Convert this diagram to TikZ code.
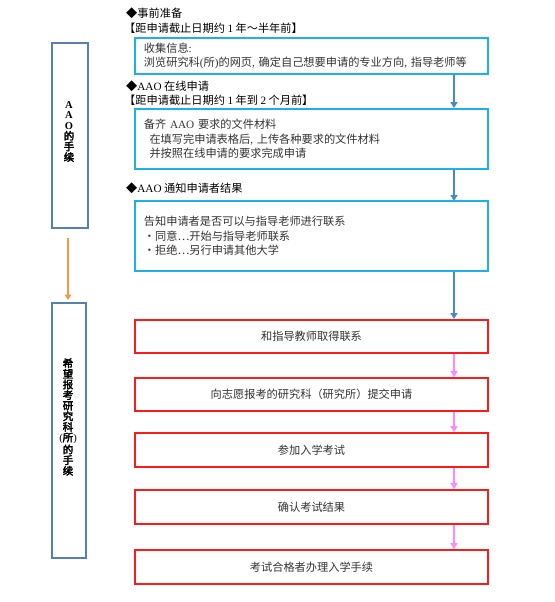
\documentclass[tikz,border=0pt]{standalone}
\usepackage{fontspec}
\setmainfont{Noto Sans CJK SC}
\newfontfamily\lat{Liberation Serif}
\newfontfamily\vfont{Noto Sans CJK SC}[FakeBold=3]
\usetikzlibrary{arrows.meta}
\definecolor{boxblue}{HTML}{1CB0EC}
\definecolor{arrblue}{HTML}{4A88CC}
\definecolor{sideblue}{HTML}{5580B5}
\definecolor{redb}{HTML}{FF1A1A}
\definecolor{pinka}{HTML}{FF88FF}
\definecolor{oranga}{HTML}{F79646}
\definecolor{txt}{HTML}{333333}
\begin{document}
\begin{tikzpicture}[x=1pt,y=-1pt,
  bluebox/.style={draw=boxblue, line width=1.8pt, anchor=north west, minimum width=353pt,
    text width=335pt, inner xsep=9pt, align=left, text=txt,
    font=\fontsize{11.2}{14.5}\selectfont},
  redbox/.style={draw=redb, line width=2pt, anchor=north west, minimum width=353pt,
    align=center, text=txt, font=\fontsize{11.2}{13}\selectfont},
  sidebox/.style={draw=sideblue, line width=1.6pt, anchor=north west},
  vtext/.style={align=center, inner sep=0pt, font=\vfont\fontsize{10.5}{10.6}\selectfont, text=black},
  heading/.style={anchor=west, inner sep=0pt, text=black, font=\fontsize{11.2}{13}\selectfont},
  barrow/.style={draw=arrblue, line width=2pt, -{Triangle[width=7pt,length=6pt]}},
  parrow/.style={draw=pinka, line width=2pt, -{Triangle[width=7pt,length=6pt]}},
  oarrow/.style={draw=oranga, line width=1.6pt, -{Triangle[width=6.5pt,length=5.5pt]}}
]
\useasboundingbox[fill=white] (0,0) rectangle (554,602);

% headings
\node[heading] (h1) at (126,13) {◆事前准备};
\node[heading] (h2) at (124,28) {【距申请截止日期约 {\lat 1} 年～半年前】};
\node[heading] (h3) at (126,86) {◆{\lat AAO} 在线申请};
\node[heading] (h4) at (124,100) {【距申请截止日期约 {\lat 1} 年到 {\lat 2} 个月前】};
\node[heading] (h5) at (126,188) {◆{\lat AAO} 通知申请者结果};

% blue boxes
\node[bluebox, minimum height=36pt] (b1) at (134,37)
  {收集信息{\lat :}\\浏览研究科{\lat (}所{\lat )}的网页{\lat ,} 确定自己想要申请的专业方向{\lat ,} 指导老师等};
\node[bluebox, minimum height=60pt] (b2) at (134,108)
  {备齐 {\lat AAO} 要求的文件材料\\\hspace*{0.5em}在填写完申请表格后{\lat ,} 上传各种要求的文件材料\\\hspace*{0.5em}并按照在线申请的要求完成申请};
\node[bluebox, minimum height=70pt] (b3) at (134,200)
  {告知申请者是否可以与指导老师进行联系\\・同意…开始与指导老师联系\\・拒绝…另行申请其他大学};

% red boxes
\node[redbox, minimum height=33pt] (r1) at (134,319) {和指导教师取得联系};
\node[redbox, minimum height=33pt] (r2) at (134,377) {向志愿报考的研究科（研究所）提交申请};
\node[redbox, minimum height=34pt] (r3) at (134,432) {参加入学考试};
\node[redbox, minimum height=34pt] (r4) at (134,489) {确认考试结果};
\node[redbox, minimum height=34pt] (r5) at (134,549) {考试合格者办理入学手续};

% side boxes
\node[sidebox, minimum width=36pt, minimum height=185pt] (la) at (51,42) {};
\node[sidebox, minimum width=34pt, minimum height=255pt] (lb) at (51,302) {};
\node[vtext] (ta) at (69,131.5) {{\lat\bfseries A}\\{\lat\bfseries A}\\{\lat\bfseries O}\\的\\手\\续};
\node[vtext] (tb) at (68,417) {希\\望\\报\\考\\研\\究\\科\\{\lat (}所{\lat )}\\的\\手\\续};

% arrow columns
\coordinate (xa) at (454,0);
\coordinate (xo) at (68,0);

\draw[barrow] (b1.south -| xa) -- (b2.north -| xa);
\draw[barrow] (b2.south -| xa) -- ([yshift=-1pt]b3.north -| xa);
\draw[barrow] (b3.south -| xa) -- (r1.north -| xa);
\draw[parrow] (r1.south -| xa) -- (r2.north -| xa);
\draw[parrow] (r2.south -| xa) -- (r3.north -| xa);
\draw[parrow] (r3.south -| xa) -- (r4.north -| xa);
\draw[parrow] (r4.south -| xa) -- (r5.north -| xa);
\draw[oarrow, shorten <=9pt, shorten >=2pt] (la.south -| xo) -- (lb.north -| xo);
\end{tikzpicture}
\end{document}
